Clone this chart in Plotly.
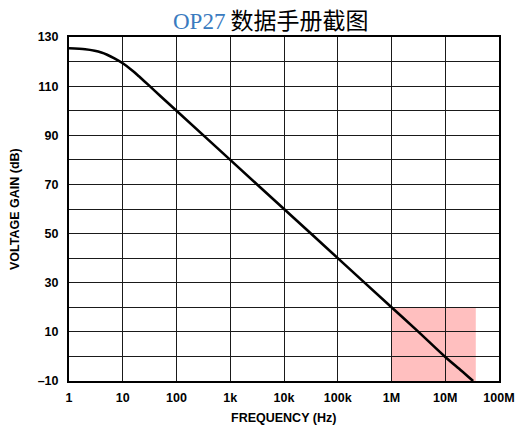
import plotly.graph_objects as go

# Open-loop voltage gain curve
freq_hz = [1, 2, 3, 4, 5, 7, 10, 15, 20, 30, 50, 100, 1e3, 1e4, 1e5, 1e6, 3e6, 1e7, 2e7, 3.3e7]
gain_db = [125.4, 125.0, 124.4, 123.7, 122.9, 121.3, 119.3, 116.4, 114.0, 110.5, 106.0, 100.0,
           80, 60, 40, 20, 10.5, -0.2, -5.8, -10]

# Highlighted region
hl_freq = [1e6, 3.7e7]
hl_gain = [-10, 20]

x_tickvals = [1, 10, 100, 1e3, 1e4, 1e5, 1e6, 1e7, 1e8]
x_ticktext = ["1", "10", "100", "1k", "10k", "100k", "1M", "10M", "100M"]
y_tickvals = list(range(-10, 131, 10))
y_ticktext = ["\u201310", "", "10", "", "30", "", "50", "", "70", "", "90", "", "110", "", "130"]

fig = go.Figure()
fig.add_trace(go.Scatter(x=freq_hz, y=gain_db, mode="lines",
                         line=dict(color="black", width=2.6, shape="spline", smoothing=0.8),
                         hoverinfo="skip", showlegend=False))

fig.add_shape(type="rect", xref="x", yref="y",
              x0=hl_freq[0], x1=hl_freq[1], y0=hl_gain[0], y1=hl_gain[1],
              fillcolor="rgba(255,0,0,0.25)", line=dict(width=0), layer="below")

tickfont = dict(family="Liberation Sans, Arial", size=12.5, color="black", weight="bold")

fig.update_xaxes(type="log", range=[0, 8], tickvals=x_tickvals, ticktext=x_ticktext,
                 showgrid=True, gridcolor="#1a1a1a", gridwidth=1.4,
                 showline=True, linecolor="black", linewidth=2, mirror=True, automargin=False,
                 ticks="", tickfont=tickfont, ticklabelstandoff=4, zeroline=False)
fig.update_yaxes(range=[-10, 130], tickvals=y_tickvals, ticktext=y_ticktext,
                 showgrid=True, gridcolor="#1a1a1a", gridwidth=1.4,
                 showline=True, linecolor="black", linewidth=2, mirror=True, automargin=False,
                 ticks="", tickfont=tickfont, ticklabelstandoff=6, zeroline=False)

L, R, T, B = 69, 16, 37, 46
W, H = 515, 427
pw, ph = W - L - R, H - T - B


def px2paper(px, py):
    return (px - L) / pw, 1 - (py - T) / ph


tx, ty = px2paper(271, 19)
fx, fy = px2paper(283, 418)
vx, vy = px2paper(15, 209)

fig.update_layout(
    width=W, height=H,
    margin=dict(l=L, r=R, t=T, b=B, autoexpand=False),
    paper_bgcolor="white", plot_bgcolor="white",
    annotations=[
        dict(text='<span style="font-family:Liberation Serif, Times New Roman;color:#3a7bbf">OP27</span> 数据手册截图',
             xref="paper", yref="paper", x=tx, y=ty, xanchor="center", yanchor="middle",
             font=dict(family="Noto Sans CJK SC", size=23, color="black"), showarrow=False),
        dict(text="FREQUENCY (Hz)", xref="paper", yref="paper", x=fx, y=fy,
             xanchor="center", yanchor="middle", showarrow=False,
             font=dict(family="Liberation Sans, Arial", size=12.5, color="black", weight="bold")),
        dict(text="VOLTAGE GAIN (dB)", xref="paper", yref="paper", x=vx, y=vy,
             xanchor="center", yanchor="middle", textangle=-90, showarrow=False,
             font=dict(family="Liberation Sans, Arial", size=12.5, color="black", weight="bold")),
    ],
)
fig.write_html("out.html")
